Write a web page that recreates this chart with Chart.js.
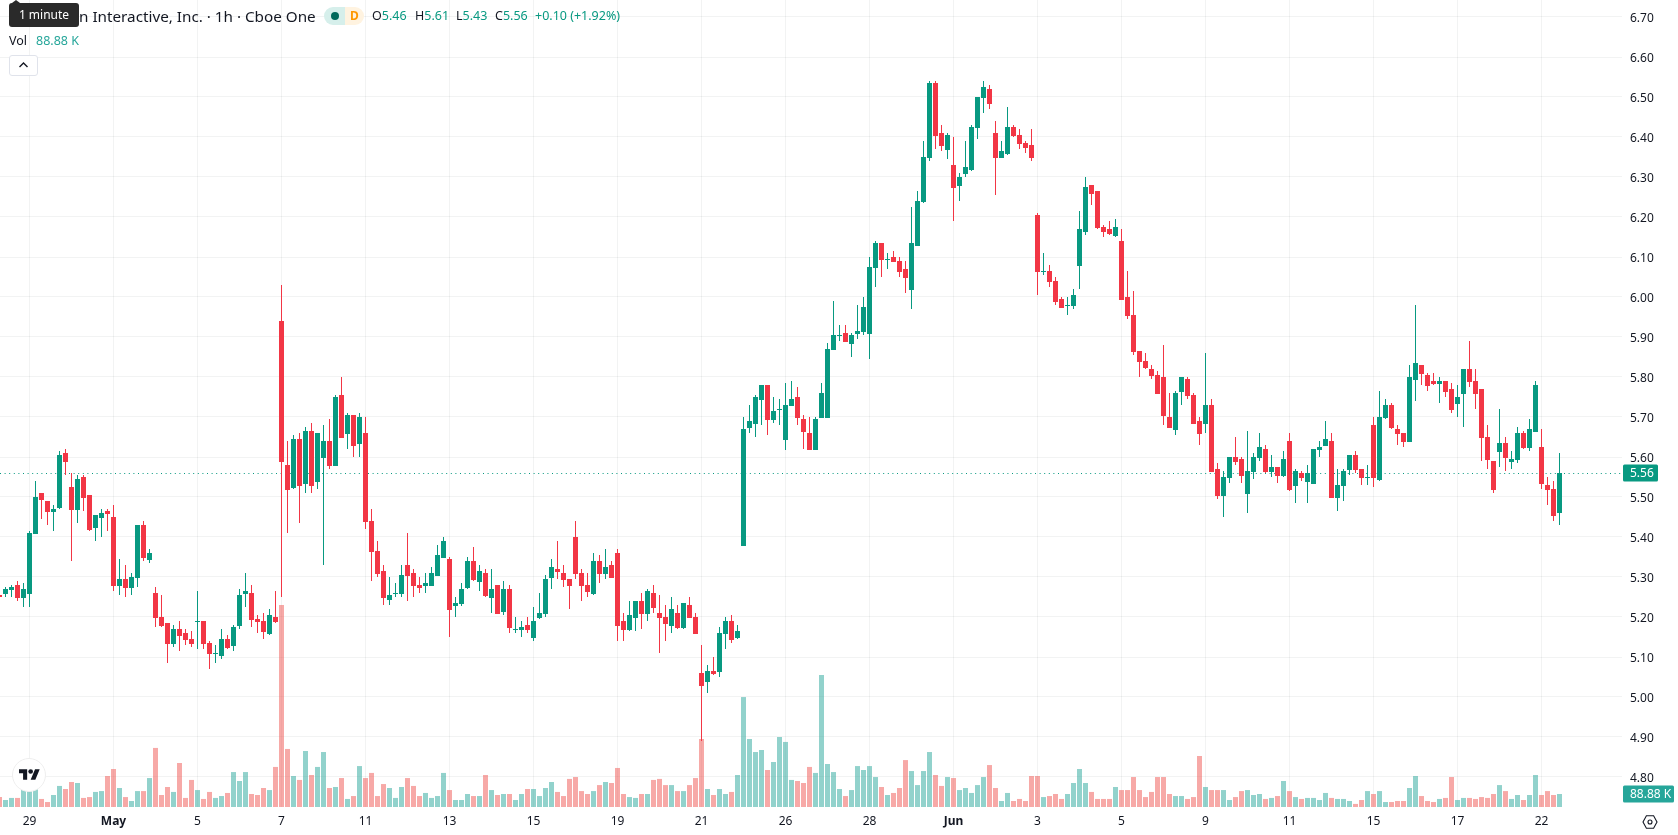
<!DOCTYPE html>
<html>
<head>
<meta charset="utf-8">
<title>Hourly candles</title>
<script src="https://cdn.jsdelivr.net/npm/chart.js@4/dist/chart.umd.min.js"></script>
<style>
    html, body { margin: 0; padding: 0; background: #fff; overflow: hidden; }
    body { width: 1678px; height: 835px; position: relative; font-family: 'Noto Sans', sans-serif; color: #131722; }
    #chart { position: absolute; left: 0; top: 0; }
    .lbl { position: absolute; white-space: nowrap; line-height: 18px; font-size: 12.5px; }
    .up { color: #089981; }
    #title { left: 79px; top: 7px; font-size: 15.25px; }
    #tip { position: absolute; left: 9px; top: 3px; width: 70px; height: 24px; background: #2a2a2a; border-radius: 3px;
           color: #fff; font-size: 12px; line-height: 24px; text-align: center; }
    #tip:before { content: ''; position: absolute; left: 3px; top: -3px; border: 3px solid transparent; border-top: 0; border-bottom-color: #2a2a2a; border-left-width: 4px; border-right-width: 4px; border-bottom-width: 3px; }
    #pillA { position: absolute; left: 324px; top: 7px; width: 21px; height: 18px; background: #d6efeb; border-radius: 9px 0 0 9px; }
    #pillA i { position: absolute; left: 7px; top: 5px; width: 8px; height: 8px; border-radius: 50%; background: #00695c; }
    #pillB { position: absolute; left: 345px; top: 7px; width: 19px; height: 18px; background: #fff3e0; border-radius: 0 9px 9px 0;
             color: #ff9800; font-size: 12px; font-weight: 700; line-height: 18px; text-align: center; }
    #collapse { position: absolute; left: 9px; top: 55px; width: 27px; height: 19px; border: 1px solid #e0e3eb; border-radius: 3px; background: #fff; }
    #logo { position: absolute; left: 12px; top: 758px; width: 34px; height: 34px; border-radius: 50%; background: #fff; border: 1px solid #eee; box-sizing: border-box; }
    #logo svg { position: absolute; left: 6px; top: 10px; }
    #gear { position: absolute; left: 1642px; top: 814px; }
</style>
</head>
<body>
<canvas id="chart" width="1678" height="835"></canvas>

<div class="lbl" id="title">n Interactive, Inc. · 1h · Cboe One</div>
<div id="pillA"><i></i></div>
<div id="pillB">D</div>
<div class="lbl" style="left:372px;top:7px">O<span class="up">5.46</span></div>
<div class="lbl" style="left:415px;top:7px">H<span class="up">5.61</span></div>
<div class="lbl" style="left:456px;top:7px">L<span class="up">5.43</span></div>
<div class="lbl" style="left:495px;top:7px">C<span class="up">5.56</span></div>
<div class="lbl up" style="left:535px;top:7px">+0.10 (+1.92%)</div>
<div class="lbl" style="left:9px;top:32px">Vol</div>
<div class="lbl" style="left:36px;top:32px;color:#26a69a">88.88 K</div>
<div id="tip">1 minute</div>
<div id="collapse">
    <svg width="27" height="19" viewBox="0 0 27 19"><path d="M9.5 11 L13.5 7 L17.5 11" fill="none" stroke="#131722" stroke-width="1.4"/></svg>
</div>
<div id="logo">
    <svg width="21" height="12" viewBox="0 0 36 20"><path fill="#131722" d="M14 18H7V7H0V0h14v18zM28 18h-8l7.5-18h8L28 18z"/><circle fill="#131722" cx="20" cy="4" r="4"/></svg>
</div>
<svg id="gear" width="16" height="16" viewBox="0 0 16 16">
    <path d="M4.4 1.8h7.2L15 8l-3.4 6.2H4.4L1 8z" fill="none" stroke="#131722" stroke-width="1.1"/>
    <circle cx="8" cy="8" r="2" fill="none" stroke="#131722" stroke-width="1.1"/>
</svg>

<script>
// one row per 10 candles, oldest first
const opens = [
    5.255, 5.258, 5.268, 5.28, 5.248, 5.258, 5.408, 5.51, 5.49, 5.463,
    5.473, 5.61, 5.525, 5.468, 5.55, 5.505, 5.423, 5.448, 5.466, 5.45,
    5.278, 5.296, 5.273, 5.298, 5.43, 5.343, 5.26, 5.20, 5.186, 5.133,
    5.171, 5.161, 5.146, 5.1875, 5.191, 5.136, 5.1075, 5.103, 5.146, 5.128,
    5.178, 5.258, 5.26, 5.196, 5.191, 5.158, 5.201, 5.94, 5.58, 5.523,
    5.645, 5.533, 5.665, 5.538, 5.598, 5.64, 5.578, 5.755, 5.658, 5.705,
    5.633, 5.66, 5.44, 5.366, 5.316, 5.243, 5.2575, 5.258, 5.33, 5.31,
    5.28, 5.278, 5.278, 5.303, 5.348, 5.346, 5.228, 5.233, 5.273, 5.34,
    5.288, 5.31, 5.248, 5.28, 5.213, 5.27, 5.1675, 5.168, 5.18, 5.148,
    5.198, 5.208, 5.298, 5.32, 5.31, 5.296, 5.40, 5.31, 5.28, 5.258,
    5.34, 5.308, 5.33, 5.36, 5.19, 5.168, 5.198, 5.24, 5.208, 5.26,
    5.21, 5.20, 5.178, 5.21, 5.173, 5.23, 5.20, 5.061, 5.038, 5.066,
    5.063, 5.158, 5.19, 5.148, 5.378, 5.6725, 5.6825, 5.7425, 5.78, 5.6925,
    5.7175, 5.6425, 5.7275, 5.75, 5.695, 5.66, 5.6175, 5.6975, 5.6975, 5.868,
    5.9025, 5.91, 5.883, 5.908, 5.913, 5.908, 6.073, 6.136, 6.0925, 6.10,
    6.09, 6.07, 6.018, 6.128, 6.238, 6.348, 6.536, 6.41, 6.368, 6.33,
    6.278, 6.308, 6.318, 6.423, 6.498, 6.52, 6.41, 6.348, 6.358, 6.426,
    6.406, 6.386, 6.38, 6.206, 6.0625, 6.066, 6.04, 5.996, 5.9775, 5.978,
    6.078, 6.163, 6.28, 6.266, 6.176, 6.17, 6.153, 6.14, 6.00, 5.956,
    5.866, 5.84, 5.82, 5.806, 5.80, 5.70, 5.668, 5.763, 5.796, 5.756,
    5.69, 5.683, 5.73, 5.57, 5.503, 5.548, 5.60, 5.596, 5.508, 5.563,
    5.598, 5.62, 5.563, 5.576, 5.553, 5.64, 5.528, 5.56, 5.538, 5.533,
    5.618, 5.628, 5.64, 5.498, 5.528, 5.568, 5.606, 5.57, 5.5475, 5.68,
    5.543, 5.698, 5.73, 5.67, 5.66, 5.638, 5.793, 5.83, 5.806, 5.79,
    5.783, 5.79, 5.77, 5.733, 5.758, 5.82, 5.79, 5.77, 5.65, 5.59,
    5.613, 5.636, 5.588, 5.593, 5.66, 5.623, 5.663, 5.626, 5.53, 5.52,
    5.46
];
const highs = [
    5.255, 5.275, 5.28, 5.29, 5.285, 5.415, 5.54, 5.51, 5.49, 5.48,
    5.615, 5.62, 5.56, 5.556, 5.556, 5.505, 5.456, 5.47, 5.47, 5.48,
    5.345, 5.33, 5.31, 5.43, 5.44, 5.37, 5.275, 5.255, 5.186, 5.18,
    5.19, 5.171, 5.166, 5.266, 5.191, 5.141, 5.131, 5.171, 5.156, 5.18,
    5.27, 5.31, 5.28, 5.206, 5.211, 5.221, 5.266, 6.03, 5.64, 5.655,
    5.66, 5.675, 5.685, 5.66, 5.68, 5.695, 5.755, 5.80, 5.71, 5.705,
    5.71, 5.70, 5.47, 5.39, 5.33, 5.30, 5.286, 5.33, 5.41, 5.32,
    5.30, 5.31, 5.325, 5.38, 5.40, 5.35, 5.25, 5.285, 5.35, 5.375,
    5.33, 5.32, 5.32, 5.28, 5.29, 5.28, 5.20, 5.19, 5.20, 5.225,
    5.26, 5.305, 5.345, 5.39, 5.33, 5.296, 5.44, 5.32, 5.31, 5.36,
    5.355, 5.37, 5.34, 5.37, 5.21, 5.24, 5.24, 5.26, 5.27, 5.28,
    5.255, 5.23, 5.25, 5.23, 5.235, 5.25, 5.21, 5.13, 5.08, 5.10,
    5.175, 5.20, 5.205, 5.18, 5.70, 5.73, 5.755, 5.78, 5.78, 5.75,
    5.745, 5.785, 5.79, 5.775, 5.705, 5.70, 5.70, 5.785, 5.885, 5.99,
    5.93, 5.93, 5.91, 5.98, 6.00, 6.10, 6.14, 6.136, 6.11, 6.116,
    6.10, 6.09, 6.226, 6.266, 6.39, 6.54, 6.54, 6.43, 6.41, 6.40,
    6.31, 6.39, 6.43, 6.50, 6.54, 6.53, 6.44, 6.39, 6.476, 6.43,
    6.42, 6.39, 6.42, 6.21, 6.11, 6.08, 6.05, 6.00, 6.00, 6.02,
    6.216, 6.30, 6.28, 6.266, 6.18, 6.19, 6.196, 6.17, 6.066, 6.016,
    5.866, 5.86, 5.83, 5.816, 5.88, 5.76, 5.766, 5.80, 5.80, 5.76,
    5.70, 5.86, 5.746, 5.586, 5.566, 5.60, 5.65, 5.60, 5.666, 5.61,
    5.66, 5.63, 5.606, 5.576, 5.616, 5.66, 5.57, 5.566, 5.58, 5.62,
    5.64, 5.69, 5.66, 5.57, 5.57, 5.606, 5.616, 5.57, 5.58, 5.70,
    5.766, 5.746, 5.736, 5.68, 5.66, 5.83, 5.98, 5.83, 5.81, 5.81,
    5.80, 5.79, 5.786, 5.78, 5.82, 5.89, 5.82, 5.77, 5.68, 5.59,
    5.72, 5.65, 5.616, 5.676, 5.666, 5.696, 5.79, 5.67, 5.55, 5.54,
    5.61
];
const lows = [
    5.25, 5.25, 5.25, 5.24, 5.225, 5.225, 5.408, 5.445, 5.43, 5.415,
    5.47, 5.556, 5.34, 5.436, 5.466, 5.415, 5.39, 5.40, 5.415, 5.266,
    5.256, 5.25, 5.256, 5.275, 5.34, 5.336, 5.176, 5.176, 5.086, 5.126,
    5.116, 5.131, 5.126, 5.121, 5.121, 5.071, 5.086, 5.096, 5.121, 5.116,
    5.171, 5.226, 5.176, 5.161, 5.146, 5.156, 5.186, 5.25, 5.41, 5.52,
    5.436, 5.51, 5.51, 5.52, 5.33, 5.57, 5.578, 5.648, 5.62, 5.60,
    5.60, 5.42, 5.29, 5.30, 5.23, 5.23, 5.25, 5.25, 5.24, 5.25,
    5.26, 5.26, 5.278, 5.303, 5.348, 5.15, 5.20, 5.228, 5.27, 5.29,
    5.266, 5.25, 5.21, 5.208, 5.206, 5.16, 5.16, 5.15, 5.16, 5.14,
    5.196, 5.20, 5.27, 5.296, 5.276, 5.22, 5.296, 5.24, 5.25, 5.255,
    5.286, 5.296, 5.298, 5.14, 5.14, 5.166, 5.166, 5.17, 5.19, 5.21,
    5.11, 5.14, 5.16, 5.17, 5.17, 5.198, 5.158, 4.89, 5.01, 5.056,
    5.05, 5.12, 5.135, 5.146, 5.378, 5.66, 5.65, 5.68, 5.655, 5.685,
    5.68, 5.6175, 5.7275, 5.68, 5.62, 5.6175, 5.6175, 5.6975, 5.6975, 5.868,
    5.89, 5.888, 5.85, 5.896, 5.906, 5.846, 6.026, 6.05, 6.07, 6.088,
    6.05, 6.01, 5.97, 6.128, 6.236, 6.34, 6.37, 6.366, 6.346, 6.19,
    6.24, 6.30, 6.316, 6.396, 6.46, 6.47, 6.256, 6.348, 6.355, 6.40,
    6.37, 6.36, 6.34, 6.006, 6.056, 6.026, 5.98, 5.973, 5.956, 5.97,
    6.02, 6.156, 6.23, 6.17, 6.15, 6.156, 6.15, 5.993, 5.946, 5.856,
    5.80, 5.82, 5.796, 5.758, 5.68, 5.673, 5.656, 5.73, 5.746, 5.683,
    5.63, 5.66, 5.563, 5.496, 5.45, 5.536, 5.58, 5.536, 5.46, 5.546,
    5.59, 5.56, 5.55, 5.536, 5.55, 5.516, 5.486, 5.54, 5.486, 5.533,
    5.60, 5.628, 5.498, 5.466, 5.49, 5.556, 5.56, 5.53, 5.53, 5.526,
    5.54, 5.696, 5.67, 5.63, 5.626, 5.638, 5.74, 5.78, 5.766, 5.78,
    5.736, 5.75, 5.71, 5.70, 5.676, 5.776, 5.72, 5.59, 5.57, 5.51,
    5.576, 5.566, 5.57, 5.586, 5.62, 5.616, 5.663, 5.52, 5.48, 5.44,
    5.43
];
const closes = [
    5.25, 5.27, 5.275, 5.248, 5.27, 5.41, 5.50, 5.493, 5.463, 5.47,
    5.605, 5.588, 5.468, 5.545, 5.498, 5.418, 5.456, 5.46, 5.458, 5.278,
    5.296, 5.273, 5.30, 5.43, 5.348, 5.36, 5.198, 5.178, 5.133, 5.171,
    5.153, 5.143, 5.133, 5.19, 5.133, 5.108, 5.11, 5.146, 5.123, 5.176,
    5.256, 5.266, 5.193, 5.188, 5.163, 5.206, 5.188, 5.588, 5.518, 5.645,
    5.528, 5.665, 5.528, 5.66, 5.64, 5.578, 5.75, 5.648, 5.705, 5.628,
    5.70, 5.438, 5.363, 5.308, 5.248, 5.256, 5.26, 5.306, 5.303, 5.278,
    5.273, 5.286, 5.31, 5.355, 5.39, 5.218, 5.236, 5.27, 5.34, 5.293,
    5.316, 5.253, 5.27, 5.208, 5.27, 5.173, 5.17, 5.176, 5.168, 5.19,
    5.21, 5.296, 5.326, 5.313, 5.293, 5.278, 5.308, 5.278, 5.263, 5.34,
    5.308, 5.326, 5.298, 5.178, 5.168, 5.205, 5.24, 5.208, 5.265, 5.223,
    5.198, 5.183, 5.22, 5.173, 5.235, 5.198, 5.158, 5.028, 5.066, 5.058,
    5.16, 5.19, 5.143, 5.166, 5.67, 5.69, 5.75, 5.78, 5.6925, 5.715,
    5.72, 5.73, 5.745, 5.6975, 5.6625, 5.6175, 5.695, 5.76, 5.87, 5.906,
    5.905, 5.888, 5.906, 5.916, 5.976, 6.076, 6.136, 6.093, 6.095, 6.088,
    6.063, 6.048, 6.136, 6.24, 6.35, 6.536, 6.403, 6.378, 6.406, 6.273,
    6.30, 6.326, 6.426, 6.50, 6.526, 6.483, 6.348, 6.366, 6.426, 6.403,
    6.383, 6.373, 6.348, 6.063, 6.065, 6.038, 5.988, 5.973, 5.98, 6.006,
    6.17, 6.276, 6.258, 6.173, 6.163, 6.158, 6.176, 5.993, 5.953, 5.863,
    5.838, 5.823, 5.803, 5.758, 5.703, 5.673, 5.76, 5.80, 5.753, 5.683,
    5.658, 5.73, 5.563, 5.503, 5.55, 5.60, 5.588, 5.553, 5.566, 5.60,
    5.626, 5.563, 5.576, 5.553, 5.596, 5.518, 5.566, 5.548, 5.56, 5.62,
    5.626, 5.646, 5.498, 5.53, 5.566, 5.606, 5.568, 5.548, 5.55, 5.548,
    5.70, 5.73, 5.673, 5.658, 5.638, 5.80, 5.836, 5.808, 5.778, 5.783,
    5.79, 5.763, 5.718, 5.75, 5.82, 5.788, 5.758, 5.648, 5.593, 5.518,
    5.636, 5.598, 5.596, 5.66, 5.623, 5.67, 5.78, 5.533, 5.518, 5.453,
    5.56
];
// volume in thousands of shares
const volumes = [
    68, 48, 62, 62, 116, 137, 123, 55, 34, 82,
    144, 123, 171, 164, 62, 68, 103, 109, 212, 260,
    130, 68, 41, 109, 109, 198, 404, 82, 137, 103,
    301, 62, 185, 116, 55, 103, 62, 75, 96, 239,
    178, 239, 89, 82, 130, 116, 274, 1382, 397, 212,
    185, 383, 219, 274, 376, 130, 137, 198, 55, 75,
    280, 198, 233, 75, 157, 130, 62, 137, 198, 144,
    75, 96, 62, 75, 233, 116, 48, 48, 89, 75,
    75, 219, 116, 82, 89, 89, 48, 89, 123, 123,
    75, 130, 171, 103, 75, 192, 205, 109, 89, 109,
    150, 171, 164, 267, 89, 68, 62, 89, 89, 185,
    192, 150, 150, 109, 109, 150, 198, 465, 123, 82,
    123, 89, 103, 219, 752, 465, 376, 390, 253, 308,
    479, 445, 185, 178, 164, 274, 233, 903, 294, 239,
    123, 75, 116, 280, 253, 280, 205, 137, 82, 96,
    130, 321, 246, 150, 246, 376, 219, 144, 205, 198,
    116, 130, 96, 150, 205, 287, 130, 41, 96, 41,
    55, 41, 212, 212, 68, 75, 89, 55, 89, 164,
    260, 164, 103, 55, 55, 55, 137, 116, 116, 205,
    116, 68, 103, 205, 205, 89, 75, 75, 55, 68,
    349, 137, 116, 116, 116, 48, 68, 109, 116, 82,
    89, 55, 62, 75, 178, 109, 68, 55, 62, 62,
    48, 96, 62, 55, 55, 41, 21, 48, 109, 89,
    109, 34, 34, 41, 41, 130, 212, 75, 41, 34,
    55, 62, 205, 48, 62, 62, 55, 68, 62, 89,
    150, 109, 55, 82, 48, 82, 219, 82, 109, 82,
    88.88
];
const priceTicks = [4.8, 4.9, 5.0, 5.1, 5.2, 5.3, 5.4, 5.5, 5.6, 5.7, 5.8, 5.9, 6.0, 6.1, 6.2, 6.3, 6.4, 6.5, 6.6, 6.7];
const dateTickBars = [5, 19, 33, 47, 61, 75, 89, 103, 117, 131, 145, 159, 173, 187, 201, 215, 229, 243, 257];
const dateTickLabels = ['29', 'May', '5', '7', '11', '13', '15', '19', '21', '26', '28', 'Jun', '3', '5', '9', '11', '15', '17', '22'];
const lastPrice = 5.56;
const lastVolumeLabel = '88.88 K';

const GREEN = '#089981', RED = '#f23645';
const VOL_GREEN = 'rgba(38,166,154,0.5)', VOL_RED = 'rgba(239,83,80,0.5)';

// prices land on whole pixels at 400px per 1.00
const snap = (v) => Math.round(v * 400) / 400;
const isUp = opens.map((o, i) => closes[i] >= o);
const candleColors = isUp.map(u => (u ? GREEN : RED));
const volumeColors = isUp.map(u => (u ? VOL_GREEN : VOL_RED));

const wickData = highs.map((h, i) => ({ x: i, y: [snap(lows[i]), snap(h)] }));
const bodyData = opens.map((o, i) => ({ x: i, y: [snap(o), snap(closes[i])] }));
const volumeData = volumes.map((v, i) => ({ x: i, y: v }));

// month names on the time axis are bold
const isMonthTick = (value) => {
    const label = dateTickLabels[dateTickBars.indexOf(value)];
    return label !== undefined && isNaN(label);
};

// dotted last price line and the two value tags on the right axis
const lastValuePlugin = {
    id: 'lastValue',
    beforeDatasetsDraw(chart) {
        const { ctx, chartArea, scales } = chart;
        const y = Math.round(scales.y.getPixelForValue(lastPrice)) + 0.5;
        ctx.save();
        ctx.strokeStyle = GREEN;
        ctx.lineWidth = 1;
        ctx.setLineDash([1, 3.6]);
        ctx.beginPath();
        ctx.moveTo(chartArea.left, y);
        ctx.lineTo(chartArea.right, y);
        ctx.stroke();
        ctx.restore();
    },
    afterDraw(chart) {
        const { ctx, scales } = chart;
        const tag = (text, yMid, w, color) => {
            ctx.fillStyle = color;
            ctx.beginPath();
            ctx.roundRect(1623, Math.round(yMid) - 8.5, w, 17, 1.5);
            ctx.fill();
            ctx.fillStyle = '#fff';
            ctx.font = "12px 'Noto Sans'";
            ctx.textBaseline = 'middle';
            ctx.textAlign = 'left';
            ctx.fillText(text, 1630, Math.round(yMid) + 1);
        };
        tag(lastPrice.toFixed(2), scales.y.getPixelForValue(lastPrice), 35, GREEN);
        tag(lastVolumeLabel, scales.yVol.getPixelForValue(volumes[volumes.length - 1]), 51, '#26a69a');
    }
};

new Chart(document.getElementById('chart').getContext('2d'), {
    type: 'bar',
    data: {
        datasets: [
            {
                label: 'Body', data: bodyData, backgroundColor: candleColors, barThickness: 5,
                grouped: false, inflateAmount: 0, borderWidth: 0, order: 1, yAxisID: 'y'
            },
            {
                label: 'Wick', data: wickData, backgroundColor: candleColors, barThickness: 1,
                grouped: false, inflateAmount: 0, borderWidth: 0, order: 2, yAxisID: 'y'
            },
            {
                label: 'Vol', data: volumeData, backgroundColor: volumeColors, barThickness: 5,
                grouped: false, inflateAmount: 0, borderWidth: 0, order: 3, yAxisID: 'yVol'
            }
        ]
    },
    options: {
        responsive: false,
        animation: false,
        layout: { padding: 0 },
        plugins: { legend: { display: false }, tooltip: { enabled: false } },
        scales: {
            x: {
                type: 'linear',
                offset: false,
                min: 0.5 / 6,
                max: 0.5 / 6 + 1622 / 6,
                border: { display: false },
                grid: { offset: false, color: 'rgba(42,46,57,0.06)', drawTicks: false },
                ticks: {
                    autoSkip: false,
                    maxRotation: 0,
                    padding: 7,
                    color: '#131722',
                    font: (c) => ({
                        family: 'Noto Sans',
                        size: 12,
                        weight: c.tick && isMonthTick(c.tick.value) ? 'bold' : 'normal'
                    }),
                    callback: (v) => dateTickLabels[dateTickBars.indexOf(v)]
                },
                afterBuildTicks: (s) => { s.ticks = dateTickBars.map(v => ({ value: v })); },
                afterFit: (s) => { s.height = 28; s.paddingLeft = 0; s.paddingRight = 0; }
            },
            y: {
                position: 'right',
                min: 4.725,
                max: 6.7425,
                border: { display: false },
                grid: { color: 'rgba(42,46,57,0.06)', drawTicks: false },
                ticks: {
                    padding: 8,
                    labelOffset: 1.5,
                    color: '#131722',
                    font: { family: 'Noto Sans', size: 12 },
                    callback: (v) => v.toFixed(2)
                },
                afterBuildTicks: (s) => { s.ticks = priceTicks.map(v => ({ value: v })); },
                afterFit: (s) => { s.width = 56; s.paddingTop = 0; s.paddingBottom = 0; }
            },
            yVol: {
                display: false,
                min: 0,
                max: 5520
            }
        }
    },
    plugins: [lastValuePlugin]
});
</script>
</body>
</html>
